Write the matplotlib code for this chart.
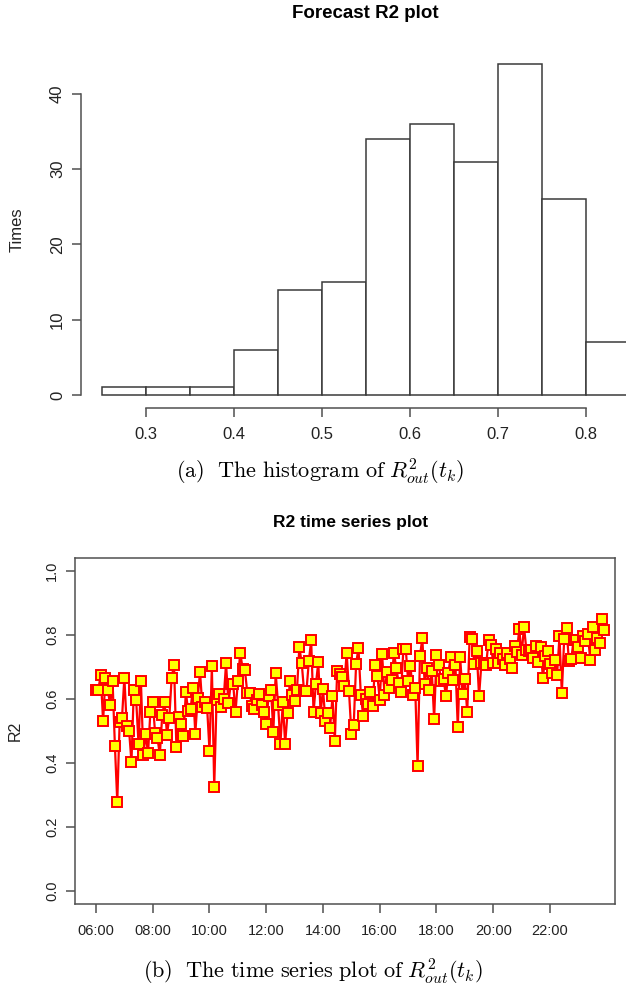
import numpy as np
import matplotlib
matplotlib.use("Agg")
import matplotlib.pyplot as plt

plt.rcParams['font.family'] = ['Liberation Sans', 'DejaVu Sans']
plt.rcParams['mathtext.fontset'] = 'cm'

# histogram of forecast R2
bin_edges = [0.25, 0.30, 0.35, 0.40, 0.45, 0.50, 0.55, 0.60, 0.65, 0.70, 0.75, 0.80, 0.85]
counts = [1, 1, 1, 6, 14, 15, 34, 36, 31, 44, 26, 7]
hist_xticks = [0.3, 0.4, 0.5, 0.6, 0.7, 0.8]
hist_yticks = [0, 10, 20, 30, 40]

# R2 every 5 minutes from 06:00 to 23:55
r2_values = [
    0.629, 0.629, 0.676, 0.530, 0.667, 0.629, 0.580, 0.657, 0.453, 0.279,
    0.527, 0.541, 0.667, 0.515, 0.501, 0.403, 0.629, 0.596, 0.458, 0.657,
    0.424, 0.491, 0.430, 0.559, 0.590, 0.494, 0.478, 0.426, 0.549, 0.590,
    0.489, 0.541, 0.667, 0.707, 0.450, 0.543, 0.522, 0.483, 0.622, 0.561,
    0.569, 0.634, 0.492, 0.603, 0.684, 0.575, 0.590, 0.572, 0.439, 0.702,
    0.325, 0.598, 0.615, 0.574, 0.599, 0.712, 0.587, 0.648, 0.648, 0.558,
    0.656, 0.745, 0.695, 0.689, 0.618, 0.618, 0.577, 0.569, 0.598, 0.615,
    0.580, 0.558, 0.522, 0.610, 0.629, 0.498, 0.681, 0.582, 0.460, 0.589,
    0.460, 0.556, 0.655, 0.613, 0.593, 0.629, 0.762, 0.712, 0.624, 0.624,
    0.717, 0.783, 0.558, 0.646, 0.714, 0.556, 0.632, 0.532, 0.556, 0.509,
    0.608, 0.468, 0.688, 0.679, 0.668, 0.639, 0.745, 0.624, 0.492, 0.520,
    0.710, 0.759, 0.613, 0.546, 0.600, 0.585, 0.622, 0.577, 0.706, 0.673,
    0.598, 0.741, 0.612, 0.683, 0.635, 0.658, 0.743, 0.698, 0.650, 0.621,
    0.756, 0.757, 0.655, 0.704, 0.612, 0.634, 0.390, 0.733, 0.790, 0.646,
    0.698, 0.629, 0.688, 0.537, 0.736, 0.705, 0.655, 0.662, 0.608, 0.681,
    0.731, 0.660, 0.707, 0.511, 0.731, 0.616, 0.662, 0.558, 0.792, 0.787,
    0.710, 0.751, 0.608, 0.712, 0.712, 0.705, 0.783, 0.769, 0.712, 0.756,
    0.712, 0.745, 0.725, 0.705, 0.743, 0.725, 0.697, 0.764, 0.746, 0.818,
    0.738, 0.826, 0.754, 0.749, 0.754, 0.728, 0.766, 0.714, 0.762, 0.665,
    0.735, 0.749, 0.710, 0.681, 0.722, 0.676, 0.795, 0.618, 0.787, 0.820,
    0.717, 0.725, 0.785, 0.785, 0.762, 0.727, 0.795, 0.780, 0.804, 0.722,
    0.824, 0.754, 0.790, 0.774, 0.850, 0.814,
]
time_hours = 6 + np.arange(len(r2_values)) * 5 / 60
time_ticks = [6, 8, 10, 12, 14, 16, 18, 20, 22]
time_labels = ["06:00", "08:00", "10:00", "12:00", "14:00", "16:00", "18:00", "20:00", "22:00"]
r2_yticks = [0.0, 0.2, 0.4, 0.6, 0.8, 1.0]

axcol = '#505050'
txtcol = '#222222'

fig = plt.figure(figsize=(6.26, 9.92), dpi=100)

#%% (a) histogram
ax1 = fig.add_axes([0.1294, 0.5885, 0.8706, 0.3605])
ax1.bar(bin_edges[:-1], counts, width=np.diff(bin_edges), align='edge',
        color='white', edgecolor='#3a3a3a', linewidth=1.1)
ax1.set_xlim(0.2261, 0.8455)
ax1.set_ylim(-1.76, 45.76)
for s in ['top', 'right']:
    ax1.spines[s].set_visible(False)
ax1.spines['left'].set_bounds(0, 40)
ax1.spines['bottom'].set_bounds(0.3, 0.8)
for s in ['left', 'bottom']:
    ax1.spines[s].set_color(axcol)
    ax1.spines[s].set_linewidth(1.1)
ax1.set_xticks(hist_xticks)
ax1.set_xticklabels([f"{t:.1f}" for t in hist_xticks])
ax1.set_yticks(hist_yticks)
ax1.tick_params(axis='both', direction='out', length=6.5, width=1.1, color=axcol,
                labelsize=12, labelcolor=txtcol)
ax1.tick_params(axis='x', pad=7)
ax1.tick_params(axis='y', labelrotation=90, pad=5)
for lab in ax1.get_yticklabels():
    lab.set_va('center')
ax1.set_ylabel("Times", fontsize=12, color=txtcol)
ax1.yaxis.set_label_coords(-0.104, 0.5)
fig.text(365 / 626, 1 - 14 / 992, "Forecast R2 plot", ha='center', va='center',
         fontsize=13.5, fontweight='bold', color='black')
fig.text(320 / 626, 1 - 472 / 992, r"$\mathrm{(a)\ \ The\ histogram\ of\ }R^2_{out}(t_k)$",
         ha='center', va='center', fontsize=16, color='black')

#%% (b) time series
ax2 = fig.add_axes([0.1198, 0.0887, 0.8626, 0.3488])
ax2.plot(time_hours, r2_values, color='red', linewidth=1.6,
         marker='s', markersize=6.5, markerfacecolor='#ffff00',
         markeredgecolor='red', markeredgewidth=1.4)
ax2.set_xlim(5.26, 24.29)
ax2.set_ylim(-0.04, 1.04)
for s in ax2.spines.values():
    s.set_color(axcol)
    s.set_linewidth(1.1)
ax2.set_xticks(time_ticks)
ax2.set_xticklabels(time_labels)
ax2.set_yticks(r2_yticks)
ax2.set_yticklabels([f"{t:.1f}" for t in r2_yticks])
ax2.tick_params(axis='both', direction='out', length=6.5, width=1.1, color=axcol,
                labelsize=10.5, labelcolor=txtcol)
ax2.tick_params(axis='x', pad=8)
ax2.tick_params(axis='y', labelrotation=90, pad=5)
for lab in ax2.get_yticklabels():
    lab.set_va('center')
ax2.set_ylabel("R2", fontsize=11.5, color=txtcol)
ax2.yaxis.set_label_coords(-0.097, 0.5)
fig.text(351 / 626, 1 - 522 / 992, "R2 time series plot", ha='center', va='center',
         fontsize=12.5, fontweight='bold', color='black')
fig.text(313 / 626, 1 - 972 / 992, r"$\mathrm{(b)\ \ The\ time\ series\ plot\ of\ }R^2_{out}(t_k)$",
         ha='center', va='center', fontsize=16, color='black')

fig.savefig("out.png", dpi=100)
